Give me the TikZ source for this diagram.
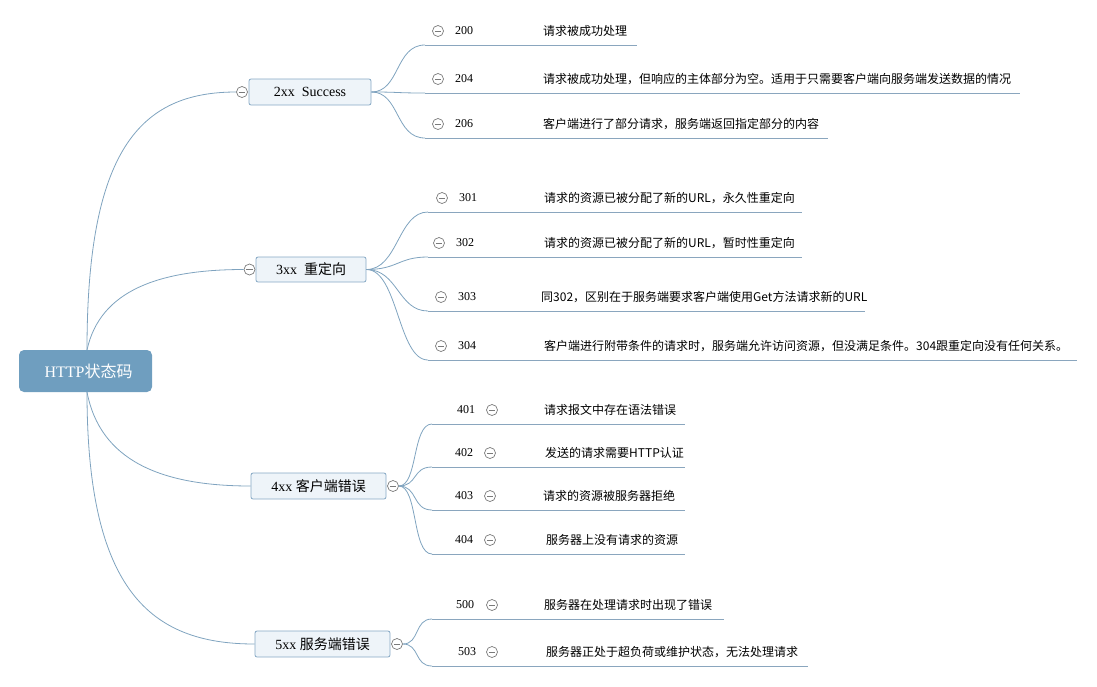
\documentclass[tikz,border=0pt]{standalone}
\usepackage{fontspec}
\setmainfont{Liberation Serif}
\newfontfamily\cjk{Noto Sans CJK SC}
\definecolor{linec}{HTML}{7FA3BF}
\definecolor{rootfill}{HTML}{6F9EBF}
\definecolor{boxfill}{HTML}{EEF4F9}
\definecolor{boxdraw}{HTML}{86A8C4}
\definecolor{ulc}{HTML}{8AA6BE}
\definecolor{circc}{HTML}{7A7A7A}
\tikzset{
  conn/.style={draw=linec, line width=0.8pt},
  uline/.style={draw=ulc, line width=0.8pt},
  rootbox/.style={rectangle, rounded corners=5pt, fill=rootfill, text=white, minimum width=133pt, minimum height=42pt, font=\fontsize{16}{18}\selectfont, inner sep=0pt},
  catbox/.style={rectangle, rounded corners=2pt, fill=boxfill, draw=boxdraw, line width=0.8pt, minimum height=26pt, font=\fontsize{14}{16}\selectfont, inner sep=0pt},
  collapse/.style={circle, draw=circc, fill=white, line width=0.7pt, minimum size=11pt, inner sep=0pt,
    path picture={\draw[circc, line width=0.7pt] ([xshift=-3.2pt]path picture bounding box.center) -- ([xshift=3.2pt]path picture bounding box.center);}},
  num/.style={anchor=west, inner sep=0pt, font=\fontsize{12}{14}\selectfont},
  desc/.style={anchor=west, inner sep=0pt, font=\fontsize{12}{14}\cjk\selectfont}
}
\begin{document}
\begin{tikzpicture}[x=1pt,y=-1pt]
\useasboundingbox (0,0) rectangle (1097,686);

% root and categories
\node[rootbox] (root) at (85.5,371) {\hspace{6pt}HTTP{\cjk 状态码}};
\node[catbox, minimum width=122pt] (c2) at (310,92) {2xx\ \ Success\hspace{4pt}};
\node[catbox, minimum width=110pt, minimum height=25pt] (c3) at (311,269.5) {3xx\ \ {\cjk 重定向}};
\node[catbox, minimum width=135pt] (c4) at (318.5,486) {4xx {\cjk 客户端错误}};
\node[catbox, minimum width=135pt] (c5) at (322.5,644) {5xx {\cjk 服务端错误}};

\node[collapse] (k2) at (242,92) {};
\node[collapse] (k3) at (249.5,269.5) {};
\node[collapse] (k4) at (393,486) {};
\node[collapse] (k5) at (397,644) {};

\coordinate (rt) at (87,350);
\coordinate (rb) at (87,392);

\draw[conn] (rt) .. controls (87,150) and (140,92) .. (k2.west);
\draw[conn] (rt) .. controls (100,290) and (160,269.5) .. (k3.west);
\draw[conn] (rb) .. controls (100,460) and (160,486) .. (c4.west);
\draw[conn] (rb) .. controls (87,590) and (150,644) .. (c5.west);

% 2xx leaves
\foreach \n/\y/\e/\t in {200/45/637/请求被成功处理,
  204/93/1020/{请求被成功处理，但响应的主体部分为空。适用于只需要客户端向服务端发送数据的情况},
  206/138/828/{客户端进行了部分请求，服务端返回指定部分的内容}}{
  \coordinate (s\n) at (425,\y);
  \coordinate (e\n) at (\e,\y);
  \draw[conn] (c2.east) .. controls (400,92) and (395,\y) .. (s\n);
  \draw[uline] (s\n) -- (e\n);
  \node[collapse] (k\n) at (438,\y-14) {};
  \node[num] (n\n) at (455,\y-14) {\n};
  \node[desc] (t\n) at (543,\y-14) {\t};
}

% 3xx leaves
\foreach \n/\cx/\nx/\tx/\y/\e/\t in {301/442/459/544/212/802/{请求的资源已被分配了新的URL，永久性重定向},
  302/439/456/544/257/802/{请求的资源已被分配了新的URL，暂时性重定向},
  303/441/458/541/311/865/{同302，区别在于服务端要求客户端使用Get方法请求新的URL},
  304/441/458/544/360/1077/{客户端进行附带条件的请求时，服务端允许访问资源，但没满足条件。304跟重定向没有任何关系。}}{
  \coordinate (s\n) at (428,\y);
  \coordinate (e\n) at (\e,\y);
  \draw[conn] (c3.east) .. controls (398,269.5) and (398,\y) .. (s\n);
  \draw[uline] (s\n) -- (e\n);
  \node[collapse] (k\n) at (\cx,\y-14) {};
  \node[num] (n\n) at (\nx,\y-14) {\n};
  \node[desc] (t\n) at (\tx,\y-14) {\t};
}

% 4xx leaves
\foreach \n/\nx/\cx/\tx/\y/\t in {401/457/492/544/424/请求报文中存在语法错误,
  402/455/490/545/467/发送的请求需要HTTP认证,
  403/455/490/543/510/请求的资源被服务器拒绝,
  404/455/490/546/554/服务器上没有请求的资源}{
  \coordinate (s\n) at (432,\y);
  \coordinate (e\n) at (685,\y);
  \draw[conn] (k4.east) .. controls (418,486) and (412,\y) .. (s\n);
  \draw[uline] (s\n) -- (e\n);
  \node[num] (n\n) at (\nx,\y-14) {\n};
  \node[collapse] (k\n) at (\cx,\y-14) {};
  \node[desc] (t\n) at (\tx,\y-14) {\t};
}

% 5xx leaves
\foreach \n/\nx/\tx/\y/\e/\t in {500/456/544/619/724/服务器在处理请求时出现了错误,
  503/458/546/666/808/{服务器正处于超负荷或维护状态，无法处理请求}}{
  \coordinate (s\n) at (432,\y);
  \coordinate (e\n) at (\e,\y);
  \draw[conn] (k5.east) .. controls (420,644) and (414,\y) .. (s\n);
  \draw[uline] (s\n) -- (e\n);
  \node[num] (n\n) at (\nx,\y-14) {\n};
  \node[collapse] (k\n) at (492,\y-14) {};
  \node[desc] (t\n) at (\tx,\y-14) {\t};
}
\end{tikzpicture}
\end{document}
